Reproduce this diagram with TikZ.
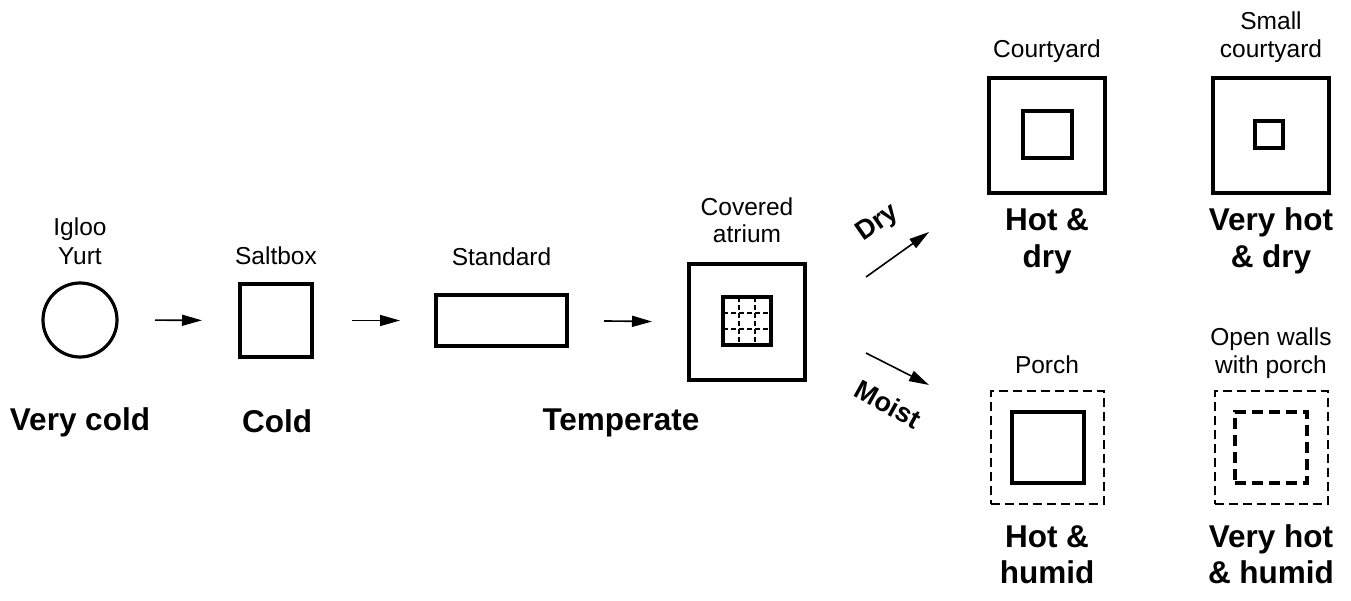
\documentclass[tikz,border=0pt]{standalone}
\usepackage{fontspec}
\setmainfont{Liberation Sans}
\usetikzlibrary{arrows.meta}
\begin{document}
\begin{tikzpicture}[x=1pt,y=-1pt,
  wall/.style={draw,line width=3.2pt,inner sep=0pt,outer sep=0pt},
  porchline/.style={draw,line width=1.5pt,dash pattern=on 9pt off 5pt,inner sep=0pt},
  openwall/.style={draw,line width=3.2pt,dash pattern=on 11pt off 6pt,inner sep=0pt},
  gridline/.style={line width=1.1pt,dash pattern=on 5pt off 3pt},
  lbl/.style={anchor=base,inner sep=0pt,font=\fontsize{24.5}{29}\selectfont},
  big/.style={anchor=base,inner sep=0pt,font=\fontsize{31.5}{38}\selectfont\bfseries},
  flow/.style={line width=1.6pt,-{Triangle[length=20pt,width=11pt]}},
  dirlbl/.style={inner sep=0pt,font=\fontsize{27}{30}\selectfont\bfseries}
]
\useasboundingbox (0,0) rectangle (1351,601);

% shapes
\node[wall,circle,minimum size=74pt] (igloo) at (80,320) {};
\node[wall,minimum width=72pt,minimum height=73pt] (saltbox) at (276,320.5) {};
\node[wall,minimum width=131pt,minimum height=51pt] (standard) at (501.5,320.5) {};
\node[wall,minimum width=116pt,minimum height=116pt] (atrium) at (747,322) {};
\node[wall,minimum width=48pt,minimum height=48pt] (atriumin) at (747,321) {};
\draw[gridline] (739,297) -- (739,345);
\draw[gridline] (755,297) -- (755,345);
\draw[gridline] (723,313) -- (771,313);
\draw[gridline] (723,329) -- (771,329);

\node[wall,minimum width=116pt,minimum height=115pt] (court) at (1047,135.5) {};
\node[wall,minimum width=49pt,minimum height=47pt] (courtin) at (1047.5,134.5) {};
\node[wall,minimum width=116pt,minimum height=115pt] (small) at (1271,135.5) {};
\node[wall,minimum width=28pt,minimum height=27pt] (smallin) at (1269,134.5) {};

\node[porchline,minimum width=113pt,minimum height=113pt] (porch) at (1047.5,447.5) {};
\node[wall,minimum width=72pt,minimum height=71pt] (porchin) at (1048,447.5) {};
\node[porchline,minimum width=113pt,minimum height=113pt] (open) at (1271.5,447.5) {};
\node[openwall,minimum width=72pt,minimum height=71pt] (openin) at (1271,447.5) {};

% arrows
\draw[flow,shorten <=38pt,shorten >=38pt] (igloo.east) -- (saltbox.west);
\draw[flow,shorten <=40pt,shorten >=36pt] (saltbox.east) -- (standard.west);
\draw[flow,shorten <=37pt,shorten >=37pt] (standard.east) -- (atrium.west);
\coordinate (dryA) at (866,277);
\coordinate (dryB) at (929,232);
\coordinate (moistA) at (866,353);
\coordinate (moistB) at (929,385);
\draw[flow] (dryA) -- (dryB);
\draw[flow] (moistA) -- (moistB);
\node[dirlbl,rotate=35] (dry) at (878,223) {Dry};
\node[dirlbl,rotate=-29] (moist) at (888,404) {Moist};

% small labels
\node[lbl] (t1a) at (80,236) {Igloo};
\node[lbl] (t1b) at (80,265) {Yurt};
\node[lbl] (t2) at (276,265) {Saltbox};
\node[lbl] (t3) at (501.5,266) {Standard};
\node[lbl] (t4a) at (747,216) {Covered};
\node[lbl] (t4b) at (747,243) {atrium};
\node[lbl] (t5) at (1047,58) {Courtyard};
\node[lbl] (t6a) at (1271,30) {Small};
\node[lbl] (t6b) at (1271,58) {courtyard};
\node[lbl] (t7) at (1047,373) {Porch};
\node[lbl] (t8a) at (1271,345) {Open walls};
\node[lbl] (t8b) at (1271,373) {with porch};

% climate labels
\node[big] (c1) at (80,430) {Very cold};
\node[big] (c2) at (277,432) {Cold};
\node[big] (c3) at (621,430) {Temperate};
\node[big] (c4a) at (1047,231) {Hot \&};
\node[big] (c4b) at (1047,268) {dry};
\node[big] (c5a) at (1271,231) {Very hot};
\node[big] (c5b) at (1271,268) {\& dry};
\node[big] (c6a) at (1047,547) {Hot \&};
\node[big] (c6b) at (1047,583) {humid};
\node[big] (c7a) at (1271,547) {Very hot};
\node[big] (c7b) at (1271,583) {\& humid};
\end{tikzpicture}
\end{document}
